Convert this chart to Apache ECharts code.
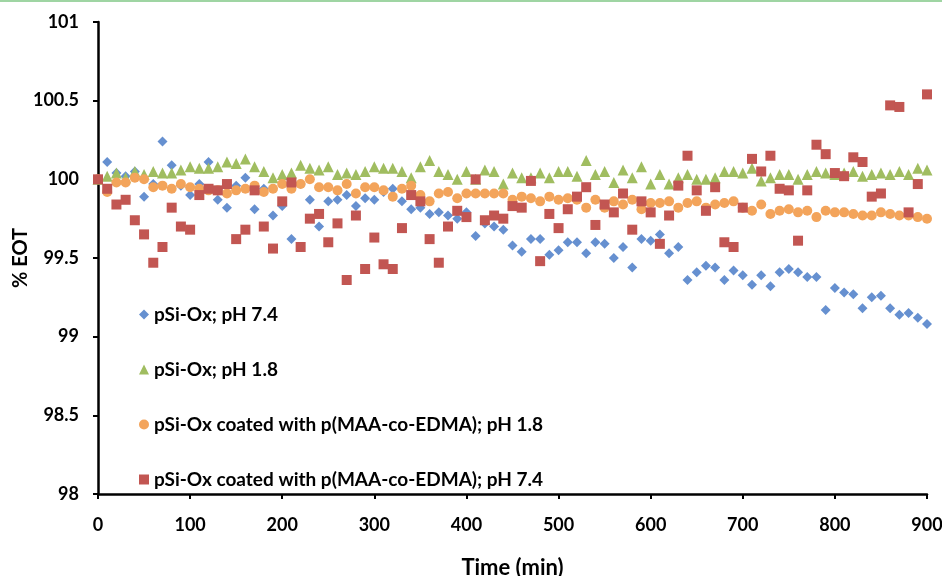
<!DOCTYPE html>
<html>
<head>
<meta charset="utf-8">
<script src="https://cdn.jsdelivr.net/npm/echarts@6/dist/echarts.min.js"></script>
<style>html,body{margin:0;padding:0;background:#fff}#c{width:942px;height:576px}</style>
</head>
<body>
<div id="c"></div>
<script>
var times = [0,10,20,30,40,50,60,70,80,90,100,110,120,130,140,150,160,170,180,190,200,210,220,230,240,250,260,270,280,290,300,310,320,330,340,350,360,370,380,390,400,410,420,430,440,450,460,470,480,490,500,510,520,530,540,550,560,570,580,590,600,610,620,630,640,650,660,670,680,690,700,710,720,730,740,750,760,770,780,790,800,810,820,830,840,850,860,870,880,890,900];

var seriesNames = ["pSi-Ox; pH 7.4", "pSi-Ox; pH 1.8", "pSi-Ox coated with p(MAA-co-EDMA); pH 1.8", "pSi-Ox coated with p(MAA-co-EDMA); pH 7.4"];

var uncoatedPH74 = [100.00,100.11,100.04,100.02,100.05,99.89,99.97,100.24,100.09,99.96,99.90,99.97,100.11,99.87,99.82,99.96,100.01,99.81,99.94,99.77,99.83,99.62,99.97,99.87,99.70,99.86,99.87,99.90,99.83,99.88,99.87,99.92,99.94,99.86,99.81,99.82,99.78,99.79,99.77,99.75,99.79,99.64,99.72,99.70,99.68,99.58,99.54,99.62,99.62,99.52,99.55,99.60,99.60,99.53,99.60,99.59,99.50,99.57,99.44,99.62,99.61,99.65,99.53,99.57,99.36,99.41,99.45,99.44,99.36,99.42,99.39,99.33,99.39,99.32,99.41,99.43,99.41,99.38,99.38,99.17,99.31,99.28,99.27,99.18,99.25,99.26,99.18,99.14,99.15,99.12,99.08];

var uncoatedPH18 = [100.00,100.02,100.04,100.01,100.05,100.03,100.05,100.04,100.04,100.06,100.08,100.07,100.07,100.08,100.11,100.10,100.13,100.08,100.05,100.01,100.03,100.04,100.09,100.07,100.06,100.08,100.03,100.04,100.03,100.05,100.08,100.07,100.07,100.05,100.01,100.08,100.12,100.05,100.03,100.00,100.05,100.00,100.06,100.05,99.97,100.04,100.01,100.01,100.04,100.01,100.05,100.05,100.02,100.12,100.03,100.05,99.98,100.06,100.01,100.08,99.97,100.03,99.97,100.01,100.03,100.00,100.00,100.01,100.05,100.05,100.04,100.07,99.99,100.01,100.03,100.03,100.00,100.03,100.05,100.04,100.03,100.04,100.05,100.02,100.03,100.04,100.03,100.05,100.03,100.07,100.06];

var coatedPH18 = [100.00,99.92,99.98,99.98,100.01,100.00,99.95,99.96,99.94,99.97,99.95,99.94,99.93,99.93,99.91,99.93,99.94,99.96,99.92,99.94,99.97,99.94,99.97,100.00,99.95,99.95,99.93,99.97,99.91,99.95,99.95,99.93,99.89,99.94,99.96,99.90,99.86,99.91,99.92,99.88,99.91,99.91,99.91,99.91,99.91,99.87,99.89,99.88,99.86,99.89,99.87,99.88,99.87,99.82,99.87,99.82,99.86,99.84,99.87,99.81,99.85,99.85,99.86,99.82,99.85,99.86,99.82,99.84,99.85,99.86,99.82,99.80,99.84,99.78,99.80,99.81,99.79,99.80,99.76,99.80,99.79,99.79,99.78,99.77,99.77,99.79,99.78,99.77,99.77,99.76,99.75];

var coatedPH74 = [100.00,99.94,99.84,99.87,99.74,99.65,99.47,99.57,99.82,99.70,99.68,99.90,99.94,99.93,99.97,99.62,99.68,99.93,99.70,99.56,99.86,99.98,99.57,99.75,99.78,99.60,99.72,99.36,99.77,99.43,99.63,99.46,99.43,99.69,99.90,99.86,99.62,99.47,99.70,99.80,99.76,100.00,99.74,99.77,99.75,99.83,99.82,99.99,99.48,99.78,99.69,99.81,99.89,99.95,99.71,99.84,99.79,99.91,99.68,99.86,99.79,99.59,99.77,99.96,100.15,99.93,99.80,99.95,99.60,99.57,99.82,100.13,100.05,100.15,99.94,99.93,99.61,99.93,100.22,100.16,100.04,100.02,100.14,100.11,99.89,99.91,100.47,100.46,99.79,99.97,100.54];

var xTicks = [0,100,200,300,400,500,600,700,800,900];
var yTicks = ["98","98.5","99","99.5","100","100.5","101"];

function pairs(vals){ return times.map(function(t,i){ return [t, vals[i]]; }); }

var colors = ['#6690D0', '#A0BD60', '#F3A45B', '#C25652'];
var symbols = ['diamond', 'triangle', 'circle', 'rect'];
var sizes = [10, 11, 10, 10];
var dataSets = [uncoatedPH74, uncoatedPH18, coatedPH18, coatedPH74];

var FONT = 'Lato';
var chart = echarts.init(document.getElementById('c'), null, {renderer: 'canvas'});
var option = {
  animation: false,
  backgroundColor: '#ffffff',
  grid: {left: 98, right: 15, top: 22, bottom: 82, containLabel: false, outerBoundsMode: 'none'},
  graphic: [{type: 'line', shape: {x1: 0, y1: 1, x2: 942, y2: 1}, style: {stroke: '#9fd5a3', lineWidth: 2}}],
  legend: {
    orient: 'vertical', left: 134, top: 300, itemGap: 36,
    itemWidth: 10, itemHeight: 10,
    textStyle: {fontFamily: FONT, fontWeight: 'bold', fontSize: 19, color: '#000'},
    data: seriesNames.map(function(n, i){ return {name: n, icon: symbols[i]}; })
  },
  xAxis: {
    type: 'value', min: 0, max: 900, interval: 100,
    name: 'Time (min)', nameLocation: 'middle', nameGap: 63, nameMoveOverlap: false,
    nameTextStyle: {fontFamily: FONT, fontWeight: 'bold', fontSize: 22, color: '#000'},
    axisLine: {show: true, onZero: false, lineStyle: {color: '#000', width: 2.5}},
    axisTick: {show: true, inside: false, length: 5, lineStyle: {color: '#000', width: 2}},
    axisLabel: {margin: 22, fontFamily: FONT, fontWeight: 'bold', fontSize: 18, color: '#000',
      formatter: function(v){ return xTicks.indexOf(v) >= 0 ? String(v) : ''; }},
    splitLine: {show: false}
  },
  yAxis: {
    type: 'value', min: 98, max: 101, interval: 0.5,
    name: '% EOT', nameLocation: 'middle', nameGap: 67, nameRotate: 90, nameMoveOverlap: false,
    nameTextStyle: {fontFamily: FONT, fontWeight: 'bold', fontSize: 20, color: '#000'},
    axisLine: {show: true, onZero: false, lineStyle: {color: '#000', width: 2.5}},
    axisTick: {show: true, inside: false, length: 5, lineStyle: {color: '#000', width: 2}},
    axisLabel: {margin: 19, fontFamily: FONT, fontWeight: 'bold', fontSize: 18, color: '#000',
      formatter: function(v){ var s = String(Math.round(v*10)/10); return yTicks.indexOf(s) >= 0 ? s : ''; }},
    splitLine: {show: false}
  },
  series: dataSets.map(function(d, i){
    return {
      name: seriesNames[i], type: 'scatter', symbol: symbols[i], symbolSize: sizes[i],
      itemStyle: {color: colors[i], opacity: 1},
      data: pairs(d), z: 2 + i
    };
  })
};
chart.setOption(option);
</script>
</body>
</html>
